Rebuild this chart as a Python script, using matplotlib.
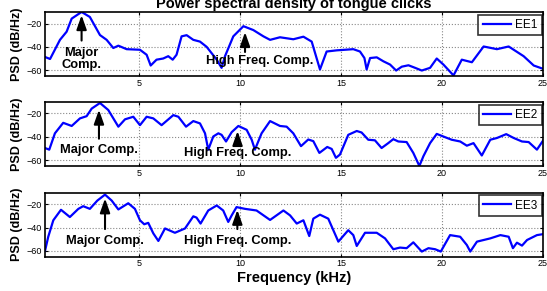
import matplotlib
matplotlib.use('Agg')
import matplotlib.pyplot as plt

plt.rcParams['font.family'] = ['Liberation Sans', 'DejaVu Sans']

# PSD curves (kHz, dB/Hz)
freq_ee1 = [0.35, 0.6, 1.09, 1.42, 1.67, 2.16, 2.57, 3.07, 3.4, 3.73, 3.98, 4.39,
            5.05, 5.38, 5.58, 5.87, 6.2, 6.45, 6.67, 6.86, 7.11, 7.36, 7.69, 8.02,
            8.35, 8.85, 9.09, 9.26, 9.67, 10.17, 10.66, 11.16, 11.49, 11.98, 12.64,
            13.14, 13.55, 13.96, 14.29, 14.79, 15.61, 15.94, 16.16, 16.27, 16.44,
            16.77, 17.1, 17.43, 17.73, 18.01, 18.34, 18.67, 19.0, 19.41, 19.74,
            20.07, 20.57, 20.98, 21.48, 22.06, 22.72, 23.3, 24.04, 24.54, 25.03]
psd_ee1 = [-48.7, -50.4, -34, -27, -15.8, -10.1, -14.4, -29.9, -34, -41, -39, -42,
           -42.5, -46.8, -56, -51, -50, -48, -51, -46.8, -31, -30, -34, -35.5,
           -40, -51, -58, -48, -31, -22.3, -25.6, -31, -34, -31.8, -33.5,
           -31.3, -35.5, -59.4, -44, -43, -42, -44, -49.6, -59.4, -49.6,
           -49, -52.4, -55.2, -60.3, -57, -55.8, -58, -60.3, -58, -50,
           -55.2, -64.5, -51, -53.2, -39.7, -42, -39.7, -48, -56, -59]

freq_ee2 = [0.35, 0.56, 0.84, 1.25, 1.67, 2.08, 2.41, 2.66, 3.07, 3.48, 3.98, 4.31,
            4.72, 5.05, 5.38, 5.71, 6.12, 6.7, 6.95, 7.33, 7.69, 8.02, 8.27, 8.43,
            8.68, 8.93, 9.09, 9.31, 9.59, 9.92, 10.33, 10.58, 10.74, 11.07, 11.49,
            11.98, 12.31, 12.64, 13.02, 13.38, 13.63, 13.93, 14.32, 14.54, 14.75,
            14.95, 15.36, 15.78, 16.02, 16.35, 16.68, 17.01, 17.34, 17.59, 17.84,
            18.25, 18.58, 18.88, 19.08, 19.41, 19.74, 20.15, 20.48, 20.9, 21.23,
            21.56, 21.97, 22.39, 22.72, 23.18, 23.55, 23.96, 24.29, 24.7, 25.03]
psd_ee2 = [-49.6, -51, -37, -28, -30.7, -24.2, -22.3, -15.8, -11, -17, -31.3, -25,
           -22.8, -30, -22.8, -24.2, -30, -21.4, -22.8, -31.3, -26.5, -28.5, -37, -51,
           -39.7, -37, -38.3, -44, -36, -30.7, -34, -42.5, -51, -37, -26.5,
           -30.7, -31.3, -37, -48, -42.3, -43.7, -53.8, -48.7, -50.4, -58,
           -55.2, -38.3, -35, -36.3, -42.5, -43, -49.6, -45.4, -42, -44,
           -44.5, -53.8, -65, -56.6, -45.4, -37.5, -40.3, -42.5, -44, -47.6,
           -45.4, -56, -42.5, -41, -37.7, -41, -44, -44.5, -51, -42.5]

freq_ee3 = [0.35, 0.51, 0.76, 1.14, 1.58, 2.0, 2.24, 2.57, 2.94, 3.32, 3.65, 3.98,
            4.47, 4.8, 5.05, 5.26, 5.46, 5.71, 5.96, 6.29, 6.78, 7.28, 7.69, 7.85,
            8.05, 8.43, 8.85, 9.17, 9.42, 9.59, 9.83, 10.25, 10.82, 11.49, 12.15,
            12.48, 12.81, 13.14, 13.43, 13.63, 13.96, 14.37, 14.87, 15.36, 15.61,
            15.78, 16.19, 16.77, 17.18, 17.59, 17.92, 18.25, 18.58, 19.0, 19.33,
            19.66, 19.94, 20.4, 20.9, 21.23, 21.4, 21.73, 22.39, 22.89, 23.3,
            23.51, 23.71, 23.96, 24.21, 24.7, 25.03]
psd_ee3 = [-60, -47.9, -33.8, -24.8, -31, -24, -21.7, -24, -16.9, -11.8, -16.9, -24.5,
           -19.2, -24, -33.8, -37.2, -36, -45, -51.5, -40.8, -44.5, -40.8, -30.4, -31.5,
           -36.6, -25.4, -21.1, -25.4, -35.2, -29.6, -22.5, -24, -25.4, -33.5, -25.4,
           -29.6, -36.6, -33.8, -47.3, -32.4, -29, -32.4, -52.1, -42.3, -46.5,
           -55.8, -44.5, -44.5, -49.3, -58.6, -57.2, -57.7, -52.7, -60.6, -57.7,
           -58.6, -60.6, -46.5, -47.9, -55, -60.6, -52.1, -49.3, -46.5, -47.9,
           -57.7, -53, -55.5, -50.7, -46.5, -45.6]

labels = ['EE1', 'EE2', 'EE3']

# annotation anchors: (text x, text y, arrow x, arrow tail y, arrow head y)
major = [(2.16, -50.5, 2.16, -37, -10.5),
         (3.03, -51, 3.02, -44, -14.4),
         (3.32, -51.5, 3.32, -43.7, -12.7)]
major_txt = ['Major\nComp.', 'Major Comp.', 'Major Comp.']
highf = [(11.0, -52.4, 10.25, -46.8, -25),
         (9.9, -53.8, 9.88, -47.6, -32.7),
         (9.9, -51.5, 9.87, -43.7, -22.5)]

series = [(freq_ee1, psd_ee1), (freq_ee2, psd_ee2), (freq_ee3, psd_ee3)]

fig = plt.figure(figsize=(5.47, 2.91), dpi=100)
left, width, height = 0.0823, 0.9104, 0.2205
bottoms = [0.7388, 0.4296, 0.1179]
arrow = dict(arrowstyle='-|>,head_width=0.3,head_length=0.85',
             color='black', lw=1.5)

for i, (f, p) in enumerate(series):
    ax = fig.add_axes([left, bottoms[i], width, height])
    ax.plot(f, p, color='#0000ff', lw=1.6, label=labels[i])
    ax.set_xlim(0.35, 25)
    ax.set_ylim(-65, -10)
    ax.set_xticks([5, 10, 15, 20, 25])
    ax.set_yticks([-60, -40, -20])
    ax.grid(True, linestyle=':', color='#888888', lw=0.8)
    ax.tick_params(direction='in', length=2.5, labelsize=6.5, top=True,
                   right=True, pad=2, width=0.8)
    for s in ax.spines.values():
        s.set_linewidth(1.2)
    ax.set_ylabel('PSD (dB/Hz)', fontsize=9, fontweight='bold', labelpad=3)
    leg = ax.legend(loc='upper right', bbox_to_anchor=(0.997, 0.955),
                    borderaxespad=0, fancybox=False, fontsize=8.5,
                    handlelength=2.4, borderpad=0.35, handletextpad=0.35)
    leg.get_frame().set_edgecolor('black')
    leg.get_frame().set_linewidth(1.2)

    tx, ty, axx, y0, y1 = major[i]
    ax.annotate('', xy=(axx, y1), xytext=(axx, y0), arrowprops=arrow)
    ax.text(tx, ty, major_txt[i], ha='center', va='center', fontsize=9.3,
            fontweight='bold', linespacing=1.0)
    tx, ty, axx, y0, y1 = highf[i]
    ax.annotate('', xy=(axx, y1), xytext=(axx, y0), arrowprops=arrow)
    ax.text(tx, ty, 'High Freq. Comp.', ha='center', va='center', fontsize=9.3,
            fontweight='bold')

    if i == 0:
        ax.set_title('Power spectral density of tongue clicks', fontsize=10.5,
                     fontweight='bold', pad=3)
    if i == 2:
        ax.set_xlabel('Frequency (kHz)', fontsize=10.5, fontweight='bold',
                      labelpad=2)

fig.savefig('out.png', dpi=100)
